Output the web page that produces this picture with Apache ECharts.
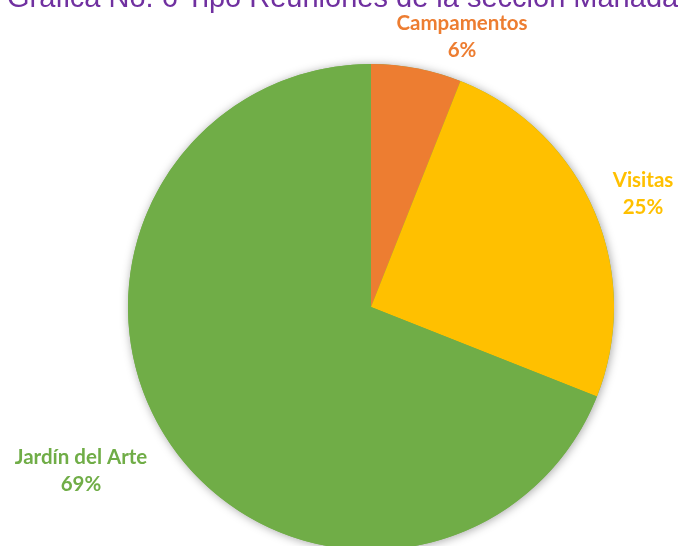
<!DOCTYPE html>
<html>
<head>
<meta charset="utf-8">
<script src="https://cdn.jsdelivr.net/npm/echarts@6/dist/echarts.min.js"></script>
<style>html,body{margin:0;padding:0;background:#fff}#c{width:678px;height:546px}</style>
</head>
<body>
<div id="c"></div>
<script>
var titleText = 'Gráfica No. 6 Tipo Reuniones de la sección Manada';
var categories = ['Campamentos', 'Visitas', 'Jardín del Arte'];
var values = [6, 25, 69];
var colors = ['#ED7D31', '#FFC000', '#70AD47'];
var labelPos = {
  'Campamentos': [462, 37],
  'Visitas': [643, 194],
  'Jardín del Arte': [81, 471]
};

var chart = echarts.init(document.getElementById('c'), null, {renderer: 'canvas'});
chart.setOption({
  animation: false,
  backgroundColor: '#fff',
  title: {
    text: titleText,
    left: 7,
    top: -16,
    padding: 0,
    textStyle: {fontFamily: 'Liberation Sans', fontSize: 29, fontWeight: 'normal', color: '#7030A0', lineHeight: 29}
  },
  series: [{
    type: 'pie',
    silent: true,
    center: [371, 307],
    radius: [0, 243],
    label: {show: false},
    labelLine: {show: false},
    data: [{value: 1, itemStyle: {color: '#70AD47', shadowBlur: 10, shadowColor: 'rgba(0,0,0,0.35)', shadowOffsetX: 1, shadowOffsetY: 1}}]
  }, {
    type: 'pie',
    center: [371, 307],
    radius: [0, 243],
    startAngle: 90,
    clockwise: true,
    avoidLabelOverlap: false,
    data: categories.map(function (c, i) {
      return {name: c, value: values[i], itemStyle: {color: colors[i]}, label: {color: colors[i]}};
    }),
    label: {
      show: true,
      position: 'outside',
      formatter: function (p) { return p.name + '\n' + Math.round(p.percent) + '%'; },
      fontFamily: 'Lato',
      fontWeight: 'bold',
      fontSize: 20.5,
      lineHeight: 27,
      align: 'center'
    },
    labelLine: {show: false},
    labelLayout: function (params) {
      var pos = labelPos[categories[params.dataIndex]];
      return {x: pos[0], y: pos[1], align: 'center', verticalAlign: 'middle'};
    }
  }]
});
</script>
</body>
</html>
